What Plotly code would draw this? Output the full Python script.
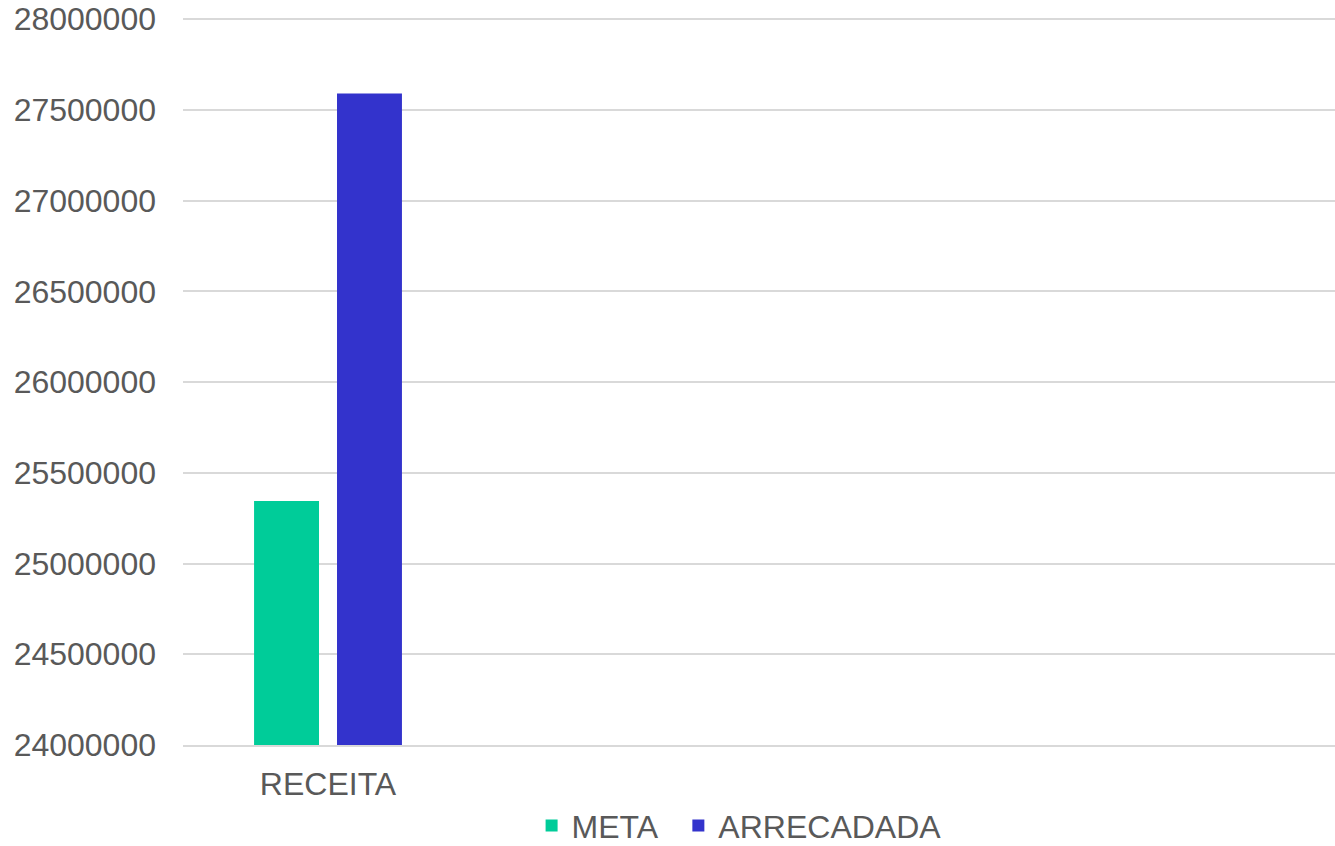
import plotly.graph_objects as go

categories = ["RECEITA"]
series_names = ["META", "ARRECADADA"]
meta_values = [25345000]
arrecadada_values = [27590000]
y_ticks = [24000000, 24500000, 25000000, 25500000, 26000000, 26500000, 27000000, 27500000, 28000000]

colors = ["#00CC99", "#3333CC"]
font_family = "Liberation Sans, Arial, sans-serif"
text_color = "#595959"
grid_color = "#D9D9D9"

fig = go.Figure()
fig.add_trace(go.Bar(x=categories, y=meta_values, name=series_names[0],
                     marker=dict(color=colors[0], line=dict(width=0)), legend="legend"))
fig.add_trace(go.Bar(x=categories, y=arrecadada_values, name=series_names[1],
                     marker=dict(color=colors[1], line=dict(width=0)), legend="legend2"))

leg_common = dict(orientation="h", xanchor="left", y=-0.111, yanchor="middle",
                  font=dict(size=32, color=text_color), itemwidth=30, bgcolor="rgba(0,0,0,0)")
fig.update_layout(
    width=1335, height=846,
    margin=dict(l=183, r=0, t=17, b=101, autoexpand=False),
    paper_bgcolor="white", plot_bgcolor="white",
    barmode="group", bargap=0.424, bargroupgap=0.217,
    font=dict(family=font_family, size=32, color=text_color),
    legend=dict(x=0.3026, **leg_common),
    legend2=dict(x=0.43, **leg_common),
    showlegend=True,
)
fig.update_xaxes(type="category", range=[-0.5035, 3.4965], showgrid=False,
                 showline=True, linecolor=grid_color, linewidth=1.5, automargin=False,
                 ticks="", tickfont=dict(size=32, color=text_color), ticklabelstandoff=10)
fig.update_yaxes(range=[y_ticks[0], 28012000], tickvals=y_ticks, ticktext=[str(v) for v in y_ticks],
                 showgrid=True, gridcolor=grid_color, gridwidth=1.5, zeroline=False, automargin=False,
                 showline=False, ticks="", tickfont=dict(size=32, color=text_color),
                 ticklabelstandoff=26)

fig.write_html("out.html", config={"displayModeBar": False},
               post_script="document.body.style.margin='0';document.body.style.overflow='hidden';")
